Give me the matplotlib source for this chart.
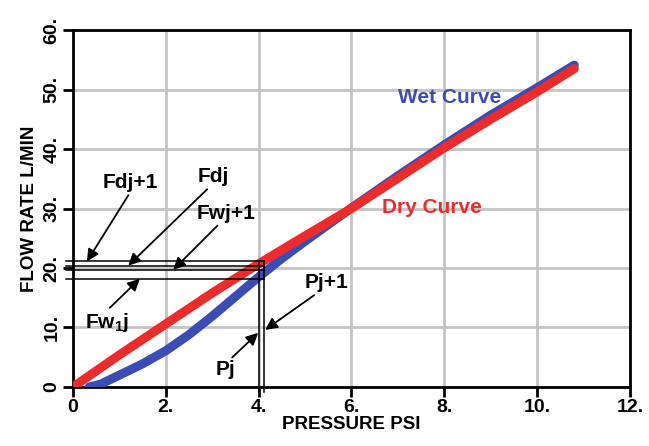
import matplotlib
matplotlib.use("Agg")
import matplotlib.pyplot as plt
import numpy as np

plt.rcParams['font.family'] = ['Liberation Sans', 'DejaVu Sans']
plt.rcParams['font.weight'] = 'bold'
plt.rcParams['mathtext.fontset'] = 'custom'
plt.rcParams['mathtext.rm'] = 'Liberation Sans:bold'
plt.rcParams['mathtext.bf'] = 'Liberation Sans:bold'

# Data
dry_p = [0, 1, 2, 3, 4, 5, 6, 7, 8, 9, 10, 10.8]
dry_f = [0, 5.4, 10.6, 15.8, 20.7, 25.4, 30.0, 35.1, 40.2, 45.0, 49.6, 53.5]
wet_p = [0.35, 0.6, 1.0, 1.5, 2.0, 2.5, 3.0, 3.5, 4.0, 4.5, 5.0, 5.5, 6.0, 6.5, 7, 8, 9, 10, 10.8]
wet_f = [0.0, 0.5, 2.0, 3.9, 6.1, 8.8, 11.9, 15.2, 18.5, 21.6, 24.5, 27.3, 30.1, 32.8, 35.5, 40.7, 45.7, 50.3, 54.1]

h_levels = [21.1, 20.4, 19.7, 18.2]      # Fdj+1, Fdj, Fwj+1, Fwj
v_levels = [4.0, 4.12]                    # Pj, Pj+1

x_ticks = [0, 2, 4, 6, 8, 10, 12]
x_labels = ['0', '2.', '4.', '6.', '8.', '10.', '12.']
y_ticks = [0, 10, 20, 30, 40, 50, 60]
y_labels = ['0', '10.', '20.', '30.', '40.', '50.', '60.']

fig = plt.figure(figsize=(6.49, 4.46), dpi=100)
ax = fig.add_axes([0.1125, 0.1323, 0.8582, 0.8004])
ax.set_xlim(0, 12)
ax.set_ylim(0, 60)

ax.grid(True, color='#c4c4c4', lw=2)
ax.set_axisbelow(True)

ax.plot(wet_p, wet_f, color='#3b4db5', lw=6.5, solid_capstyle='round',
        solid_joinstyle='round', zorder=3)
ax.plot(dry_p, dry_f, color='#ee2b2b', lw=6.5, solid_capstyle='round',
        solid_joinstyle='round', zorder=4)

# annotation lines
for h in h_levels:
    ax.plot([-0.15, v_levels[1]], [h, h], color='black', lw=1.1, clip_on=False, zorder=5)
for v in v_levels:
    ax.plot([v, v], [-0.9, h_levels[0]], color='black', lw=1.1, clip_on=False, zorder=5)

ap = dict(arrowstyle='-|>', color='black', lw=1.3, mutation_scale=18, shrinkA=0, shrinkB=0)
fs = 15
ax.annotate('Fdj+1', xy=(0.30, 21.1), xytext=(1.23, 34.3), fontsize=fs, fontweight='bold',
            ha='center', va='center', arrowprops=dict(ap, relpos=(0.5, 0)), zorder=6)
ax.annotate('Fdj', xy=(1.19, 20.4), xytext=(3.02, 35.3), fontsize=fs, fontweight='bold',
            ha='center', va='center', arrowprops=dict(ap, relpos=(0.4, 0)), zorder=6)
ax.annotate('Fwj+1', xy=(2.16, 19.7), xytext=(3.3, 29.2), fontsize=fs, fontweight='bold',
            ha='center', va='center', arrowprops=dict(ap, relpos=(0.4, 0)), zorder=6)
ax.annotate(r'Fw$_{1}$j', xy=(1.44, 18.2), xytext=(0.73, 10.9), fontsize=fs, fontweight='bold',
            ha='center', va='center', arrowprops=dict(ap, relpos=(0.5, 1)), zorder=6)
ax.annotate('Pj+1', xy=(4.14, 9.6), xytext=(5.47, 17.5), fontsize=fs, fontweight='bold',
            ha='center', va='center', arrowprops=dict(ap, relpos=(0.3, 0)), zorder=6)
ax.annotate('Pj', xy=(3.99, 9.1), xytext=(3.28, 2.9), fontsize=fs, fontweight='bold',
            ha='center', va='center', arrowprops=dict(ap, relpos=(0.7, 1)), zorder=6)

ax.text(7.0, 48.7, 'Wet Curve', color='#3b4db5', fontsize=15, fontweight='bold',
        ha='left', va='center', zorder=6)
ax.text(6.65, 30.1, 'Dry Curve', color='#ee2b2b', fontsize=15, fontweight='bold',
        ha='left', va='center', zorder=6)

ax.set_xticks(x_ticks)
ax.set_xticklabels(x_labels, fontsize=14, fontweight='bold')
ax.set_yticks(y_ticks)
ax.set_yticklabels(y_labels, fontsize=14, fontweight='bold', rotation=90, va='center')
ax.tick_params(direction='out', length=7, width=2, color='black', pad=2)

for s in ax.spines.values():
    s.set_linewidth(2)
    s.set_color('black')

ax.set_xlabel('PRESSURE PSI', fontsize=13.5, fontweight='bold', labelpad=0)
ax.set_ylabel('FLOW RATE L/MIN', fontsize=13.5, fontweight='bold', labelpad=4)

fig.savefig('out.png', dpi=100)
